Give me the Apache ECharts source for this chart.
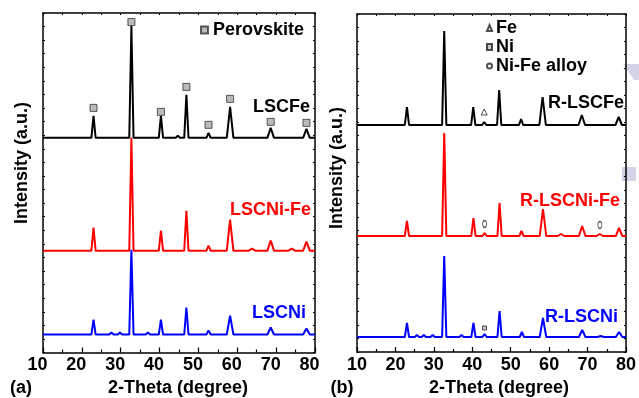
<!DOCTYPE html>
<html>
<head>
<meta charset="utf-8">
<script src="https://cdn.jsdelivr.net/npm/echarts@6/dist/echarts.min.js"></script>
<style>
  html, body { margin: 0; padding: 0; background: #fff; }
  #chart { width: 639px; height: 398px; }
</style>
</head>
<body>
<div id="chart"></div>
<script>
// ---- data (2-theta in degrees, intensity in a.u. with stacking offset) ----
// panel (a)
const lscfeBase = 215;
const lscfePos = [23.0, 32.75, 40.35, 44.7, 46.9, 52.6, 58.15, 68.6, 77.8];
const lscfeTop = [237, 327, 237, 217, 258, 220, 246, 225, 224];
const perovPos = [23.0, 32.75, 40.35, 46.9, 52.6, 58.15, 68.6, 77.8];
const perovMark = [245, 331, 241, 266, 228, 254, 231, 230];

const lscniFeBase = 102;
const lscniFePos = [23.0, 32.75, 40.35, 46.9, 52.6, 58.15, 63.8, 68.6, 74.0, 77.8];
const lscniFeTop = [125, 215, 122, 142, 107, 133, 104, 112, 104, 111];

const lscniBase = 18;
const lscniPos = [23.0, 27.6, 29.8, 32.75, 37.0, 40.35, 46.9, 52.6, 58.15, 68.6, 77.8];
const lscniTop = [33, 20, 20, 103, 20, 33, 45, 22, 37, 25, 24];

// panel (b)
const rLscfeBase = 227;
const rLscfePos = [23.0, 32.7, 40.25, 43.1, 47.0, 52.7, 58.3, 68.5, 78.1];
const rLscfeTop = [245, 321, 245, 230, 262, 233, 255, 237, 235];
const fePos = [43.1];
const feMark = [240];

const rLscniFeBase = 116;
const rLscniFePos = [23.0, 32.7, 40.3, 43.2, 47.1, 52.8, 58.4, 63.1, 68.6, 73.2, 78.2];
const rLscniFeTop = [131, 219, 134, 119, 149, 121, 143, 118, 126, 118, 124];
const alloyPos = [43.2, 73.2];
const alloyMark = [128, 127];

const rLscniBase = 15;
const rLscniPos = [23.0, 25.6, 27.4, 29.7, 32.7, 37.2, 40.3, 43.2, 47.1, 52.9, 58.4, 68.6, 73.4, 78.2];
const rLscniTop = [29, 17, 17, 17, 96, 17, 29, 18, 41, 20, 34, 22, 16, 20];
const niPos = [43.2];
const niMark = [24];

const xTicks = [10, 20, 30, 40, 50, 60, 70, 80];

// ---- helpers ----
function pattern(base, pos, top) {
  var pts = [[10, base]];
  for (var i = 0; i < pos.length; i++) {
    var w = pos[i] > 55 ? 0.85 : 0.55;
    pts.push([pos[i] - w, base], [pos[i], top[i]], [pos[i] + w, base]);
  }
  pts.push([80, base]);
  return pts;
}
function pairs(xs, ys) {
  return xs.map(function (x, i) { return [x, ys[i]]; });
}

var font = "'Liberation Sans', Arial, sans-serif";
var chart = echarts.init(document.getElementById('chart'), null, { renderer: 'canvas' });

function bottomAxis(grid, pad) {
  return {
    type: 'value', gridIndex: grid, position: 'bottom',
    min: xTicks[0], max: xTicks[xTicks.length - 1], interval: 10,
    axisLine: { onZero: false, lineStyle: { color: '#000', width: 1.5 } },
    axisTick: { inside: true, length: 5, lineStyle: { color: '#000', width: 1.2 } },
    minorTick: { show: true, splitNumber: 2, length: 3, lineStyle: { color: '#000', width: 1.2 } },
    axisLabel: { margin: 4, color: '#000', fontSize: 18, fontWeight: 'bold', fontFamily: font, padding: pad },
    splitLine: { show: false }
  };
}
function topAxis(grid) {
  return {
    type: 'value', gridIndex: grid, position: 'top',
    min: 10, max: 80, interval: 5,
    axisLine: { onZero: false, lineStyle: { color: '#000', width: 1.5 } },
    axisTick: { inside: true, length: 2, lineStyle: { color: '#000' } },
    axisLabel: { show: false }, splitLine: { show: false }
  };
}
function sideAxis(grid, pos, max) {
  return {
    type: 'value', gridIndex: grid, position: pos,
    min: 0, max: max, interval: max / 25,
    axisLine: { show: true, onZero: false, lineStyle: { color: '#000', width: 1.5 } },
    axisTick: { show: true, inside: true, length: 2, lineStyle: { color: '#000' } },
    axisLabel: { show: false }, splitLine: { show: false }
  };
}
function line(name, data, color, xi, yi, z) {
  return {
    name: name, type: 'line', data: data, xAxisIndex: xi, yAxisIndex: yi,
    showSymbol: false, silent: true, z: z,
    lineStyle: { color: color, width: 2 }
  };
}

var option = {
  backgroundColor: '#fff',
  animation: false,
  textStyle: { fontFamily: font },
  grid: [
    { left: 43, right: 324, top: 13, bottom: 45.5 },
    { left: 357, right: 11, top: 14, bottom: 46 }
  ],
  legend: [
    {
      data: ['Perovskite'], left: 195, top: 16, itemWidth: 7, itemHeight: 7, itemGap: 4,
      textStyle: { fontSize: 18, fontWeight: 'bold', color: '#000', fontFamily: font }
    },
    {
      data: ['Fe', 'Ni', 'Ni-Fe alloy'], orient: 'vertical', left: 481, top: 14,
      itemWidth: 5, itemHeight: 6, itemGap: 1,
      textStyle: { fontSize: 18, fontWeight: 'bold', color: '#000', fontFamily: font, padding: [0, 0, 0, -1] }
    }
  ],
  xAxis: [bottomAxis(0, [0, 11, 0, 0]), topAxis(0), bottomAxis(1, [0, 0, 0, 0]), topAxis(1)],
  yAxis: [sideAxis(0, 'left', 340), sideAxis(0, 'right', 340), sideAxis(1, 'left', 338), sideAxis(1, 'right', 338)],
  series: [
    line('LSCNi', pattern(lscniBase, lscniPos, lscniTop), '#0000ff', 0, 0, 2),
    line('LSCNi-Fe', pattern(lscniFeBase, lscniFePos, lscniFeTop), '#ff0000', 0, 0, 3),
    line('LSCFe', pattern(lscfeBase, lscfePos, lscfeTop), '#000000', 0, 0, 4),
    {
      name: 'Perovskite', type: 'scatter', data: pairs(perovPos, perovMark), xAxisIndex: 0, yAxisIndex: 0,
      symbol: 'rect', symbolSize: 7, z: 5,
      itemStyle: { color: '#a9a9a9', borderColor: '#333', borderWidth: 1 }
    },
    line('R-LSCNi', pattern(rLscniBase, rLscniPos, rLscniTop), '#0000ff', 2, 2, 2),
    line('R-LSCNi-Fe', pattern(rLscniFeBase, rLscniFePos, rLscniFeTop), '#ff0000', 2, 2, 3),
    line('R-LSCFe', pattern(rLscfeBase, rLscfePos, rLscfeTop), '#000000', 2, 2, 4),
    {
      name: 'Fe', type: 'scatter', data: pairs(fePos, feMark), xAxisIndex: 2, yAxisIndex: 2,
      symbol: 'triangle', symbolSize: 6, z: 5,
      itemStyle: { color: '#fff', borderColor: '#222', borderWidth: 1 }
    },
    {
      name: 'Ni', type: 'scatter', data: pairs(niPos, niMark), xAxisIndex: 2, yAxisIndex: 2,
      symbol: 'rect', symbolSize: 4, z: 5,
      itemStyle: { color: '#bbb', borderColor: '#222', borderWidth: 1 }
    },
    {
      name: 'Ni-Fe alloy', type: 'scatter', data: pairs(alloyPos, alloyMark), xAxisIndex: 2, yAxisIndex: 2,
      symbol: 'circle', symbolSize: [4, 7], z: 5,
      itemStyle: { color: '#fff', borderColor: '#222', borderWidth: 1 }
    }
  ],
  graphic: [
    // lavender scraps on the right edge of the original image
    { type: 'polygon', z: -1, shape: { points: [[623, 64], [639, 64], [639, 80], [634, 80]] }, style: { fill: '#d4d4e8' } },
    { type: 'rect', z: -1, shape: { x: 622, y: 167, width: 14, height: 14 }, style: { fill: '#d4d4e8' } },
    // sample labels
    { type: 'text', x: 310, y: 107, style: { text: 'LSCFe', fill: '#000', font: 'bold 18px ' + font, textAlign: 'right', textVerticalAlign: 'middle' } },
    { type: 'text', x: 311, y: 210, style: { text: 'LSCNi-Fe', fill: '#ff0000', font: 'bold 18px ' + font, textAlign: 'right', textVerticalAlign: 'middle' } },
    { type: 'text', x: 306, y: 313, style: { text: 'LSCNi', fill: '#0000ff', font: 'bold 18px ' + font, textAlign: 'right', textVerticalAlign: 'middle' } },
    { type: 'text', x: 624, y: 103, style: { text: 'R-LSCFe', fill: '#000', font: 'bold 18px ' + font, textAlign: 'right', textVerticalAlign: 'middle' } },
    { type: 'text', x: 620, y: 201, style: { text: 'R-LSCNi-Fe', fill: '#ff0000', font: 'bold 18px ' + font, textAlign: 'right', textVerticalAlign: 'middle' } },
    { type: 'text', x: 618, y: 317, style: { text: 'R-LSCNi', fill: '#0000ff', font: 'bold 18px ' + font, textAlign: 'right', textVerticalAlign: 'middle' } },
    // axis titles
    { type: 'text', x: 22, y: 163, rotation: Math.PI / 2, style: { text: 'Intensity (a.u.)', fill: '#000', font: 'bold 18px ' + font, textAlign: 'center', textVerticalAlign: 'middle' } },
    { type: 'text', x: 337, y: 168, rotation: Math.PI / 2, style: { text: 'Intensity (a.u.)', fill: '#000', font: 'bold 18px ' + font, textAlign: 'center', textVerticalAlign: 'middle' } },
    { type: 'text', x: 178, y: 388, style: { text: '2-Theta (degree)', fill: '#000', font: 'bold 18px ' + font, textAlign: 'center', textVerticalAlign: 'middle' } },
    { type: 'text', x: 499, y: 388, style: { text: '2-Theta (degree)', fill: '#000', font: 'bold 18px ' + font, textAlign: 'center', textVerticalAlign: 'middle' } },
    { type: 'text', x: 21, y: 388, style: { text: '(a)', fill: '#000', font: 'bold 18px ' + font, textAlign: 'center', textVerticalAlign: 'middle' } },
    { type: 'text', x: 342, y: 388, style: { text: '(b)', fill: '#000', font: 'bold 18px ' + font, textAlign: 'center', textVerticalAlign: 'middle' } }
  ]
};
chart.setOption(option);
</script>
</body>
</html>
